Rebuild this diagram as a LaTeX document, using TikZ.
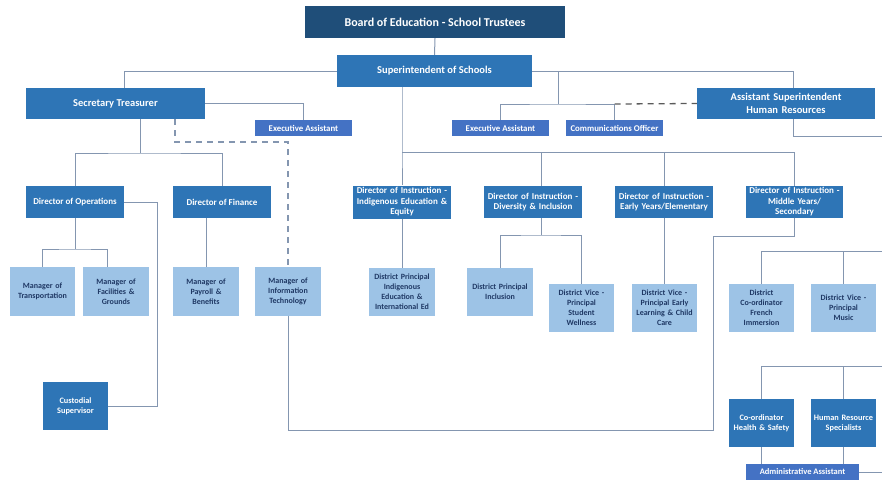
\documentclass[tikz,border=0pt]{standalone}
\usepackage{fontspec}
\setmainfont{Carlito}
\usetikzlibrary{calc}
\definecolor{navy}{RGB}{31,78,121}
\definecolor{midblue}{RGB}{46,117,182}
\definecolor{eablue}{RGB}{68,114,196}
\definecolor{lightblue}{RGB}{157,195,230}
\definecolor{darktext}{RGB}{31,56,100}
\definecolor{linec}{RGB}{132,150,176}
\definecolor{dashc}{RGB}{90,90,90}
\tikzset{
  box/.style={inner sep=0pt, align=center, font=\bfseries, draw=none},
  boardbox/.style={box, fill=navy, text=white, font=\bfseries\fontsize{12}{14}\selectfont},
  topbox/.style={box, fill=midblue, text=white, font=\bfseries\fontsize{10.5}{13}\selectfont},
  dirbox/.style={box, fill=midblue, text=white, font=\bfseries\fontsize{9}{10.5}\selectfont},
  lowbox/.style={box, fill=midblue, text=white, font=\bfseries\fontsize{8.3}{10}\selectfont},
  eabox/.style={box, fill=eablue, text=white, font=\bfseries\fontsize{8.8}{10}\selectfont},
  lightbox/.style={box, fill=lightblue, text=darktext, font=\bfseries\fontsize{8}{10}\selectfont},
  conn/.style={draw=linec, line width=1pt},
  dconn/.style={draw=linec, line width=1.1pt, dash pattern=on 6pt off 5pt},
  ddark/.style={draw=dashc, line width=1.3pt, dash pattern=on 6pt off 5pt}
}
\begin{document}
\begin{tikzpicture}[x=1pt,y=-1pt]
\useasboundingbox (0,0) rectangle (882,479);
% top level
\node[boardbox, minimum width=260pt, minimum height=32pt] (board) at (435,22) {Board of Education - School Trustees};
\node[topbox, minimum width=195pt, minimum height=32pt] (sup) at (434.5,71) {Superintendent of Schools};
\node[topbox, minimum width=179pt, minimum height=31pt] (st) at (115.5,103.5) {Secretary Treasurer};
\node[topbox, minimum width=178pt, minimum height=31pt, text width=176pt] (asup) at (786,103.5) {Assistant Superintendent\\Human Resources};
\node[eabox, minimum width=97pt, minimum height=16pt] (ea1) at (303.5,128) {Executive Assistant};
\node[eabox, minimum width=97pt, minimum height=16pt] (ea2) at (500.5,128) {Executive Assistant};
\node[eabox, minimum width=97pt, minimum height=16pt] (comm) at (614.5,128) {Communications Officer};
% directors
\node[dirbox, minimum width=98pt, minimum height=32pt] (dops) at (75,202) {Director of Operations};
\node[dirbox, minimum width=98pt, minimum height=32pt] (dfin) at (222,202) {Director of Finance};
\node[dirbox, minimum width=98pt, minimum height=33pt, text width=98pt] (dind) at (402,202) {Director of Instruction -\\Indigenous Education \&\\Equity};
\node[dirbox, minimum width=98pt, minimum height=32pt, text width=98pt] (ddiv) at (533,202) {Director of Instruction -\\Diversity \& Inclusion};
\node[dirbox, minimum width=98pt, minimum height=32pt, text width=98pt] (dearly) at (664,202) {Director of Instruction -\\Early Years/Elementary};
\node[dirbox, minimum width=97pt, minimum height=32pt, text width=97pt] (dmid) at (794.5,202) {Director of Instruction -\\Middle Years/\\Secondary};
% managers
\node[lightbox, minimum width=65pt, minimum height=49pt, text width=65pt] (mtrans) at (42.5,291.5) {Manager of\\Transportation};
\node[lightbox, minimum width=66pt, minimum height=49pt, text width=66pt] (mfac) at (116,291.5) {Manager of\\Facilities \&\\Grounds};
\node[lightbox, minimum width=66pt, minimum height=49pt, text width=66pt] (mpay) at (206,291.5) {Manager of\\Payroll \&\\Benefits};
\node[lightbox, minimum width=66pt, minimum height=49pt, text width=66pt] (mit) at (288,291.5) {Manager of\\Information\\Technology};
\node[lightbox, minimum width=66pt, minimum height=48pt, text width=66pt] (dpind) at (402,292) {District Principal\\Indigenous\\Education \&\\International Ed};
\node[lightbox, minimum width=66pt, minimum height=48pt, text width=66pt] (dpinc) at (500,292) {District Principal\\Inclusion};
\node[lightbox, minimum width=65pt, minimum height=48pt, text width=65pt] (dvpw) at (581.5,308) {District Vice -\\Principal\\Student\\Wellness};
\node[lightbox, minimum width=65pt, minimum height=48pt, text width=65pt] (dvpe) at (664.5,308) {District Vice -\\Principal Early\\Learning \& Child\\Care};
\node[lightbox, minimum width=65pt, minimum height=48pt, text width=65pt] (dcf) at (761.5,308) {District\\Co-ordinator\\French\\Immersion};
\node[lightbox, minimum width=65pt, minimum height=48pt, text width=65pt] (dvpm) at (843.5,308) {District Vice -\\Principal\\Music};
% lower
\node[lowbox, minimum width=65pt, minimum height=48pt, text width=65pt] (cust) at (75.5,406) {Custodial\\Supervisor};
\node[lowbox, minimum width=65pt, minimum height=48pt, text width=65pt] (chs) at (761.5,423) {Co-ordinator\\Health \& Safety};
\node[lowbox, minimum width=65pt, minimum height=48pt, text width=65pt] (hrs) at (843.5,423) {Human Resource\\Specialists};
\node[eabox, minimum width=113pt, minimum height=16pt, font=\bfseries\fontsize{8.5}{10}\selectfont] (admin) at (802.5,472) {Administrative Assistant};
% coordinates
\coordinate (d1) at (175,142);
\coordinate (b1) at (140,153);
\coordinate (b2) at (75,249);
\coordinate (c2) at (713,430);
\coordinate (c3) at (713,236);
\coordinate (b3) at (402,152);
\coordinate (b4) at (558,104);
\coordinate (b5) at (541,235);
\coordinate (e1) at (882,136);
\coordinate (e2) at (882,251);
\coordinate (e3) at (882,366);
\coordinate (e4) at (882,473);
% connectors
\draw[conn] (board.south) -- (sup.north);
\draw[conn] (sup.west) -| ([xshift=8.5pt]st.north);
\draw[conn] (st.east) -| (ea1.north);
\draw[dconn] ([xshift=59.5pt]st.south) |- (d1) -| (mit.north);
\draw[conn] ([xshift=24.5pt]st.south) -- (b1);
\draw[conn] (dops.north) |- (b1) -| (dfin.north);
\draw[conn] (dops.south) -- (b2);
\draw[conn] (mtrans.north) |- (b2) -| ([xshift=-9pt]mfac.north);
\draw[conn] (dops.east) -| ([xshift=49pt]cust.east) -- (cust.east);
\draw[conn] ([xshift=-16pt]dfin.south) -- (mpay.north);
\draw[conn] (mit.south) |- (c2) -- (c3) -| (dmid.south);
\draw[conn] ([xshift=-32.5pt]sup.south) -- (b3) -- (dind.north);
\draw[conn] (b3) -| (dmid.north);
\draw[conn] ([xshift=8pt]ddiv.north) |- (b3);
\draw[conn] (dearly.north) |- (b3);
\draw[conn] (sup.east) -| ([xshift=7pt]asup.north);
\draw[conn] (sup.east -| b4) -- (b4);
\draw[conn] (ea2.north) |- (b4) -| (comm.north);
\draw[ddark] (comm.north |- b4) -- (asup.west);
\draw[conn] ([xshift=7pt]asup.south) |- (e1);
\draw[conn] ([xshift=8pt]ddiv.south) -- (b5);
\draw[conn] (dpinc.north) |- (b5) -| (dvpw.north);
\draw[conn] (dind.south) -- (dpind.north);
\draw[conn] (dearly.south) -- (dearly.south |- dvpe.north);
\draw[conn] (dcf.north) |- (e2);
\draw[conn] (dvpm.north) -- (dvpm.north |- e2);
\draw[conn] (chs.north) |- (e3);
\draw[conn] (hrs.north) -- (hrs.north |- e3);
\draw[conn] (chs.south) -- (chs.south |- admin.north);
\draw[conn] (hrs.south) -- (hrs.south |- admin.north);
\draw[conn] (admin.east) -- (admin.east -| e4);
\end{tikzpicture}
\end{document}
